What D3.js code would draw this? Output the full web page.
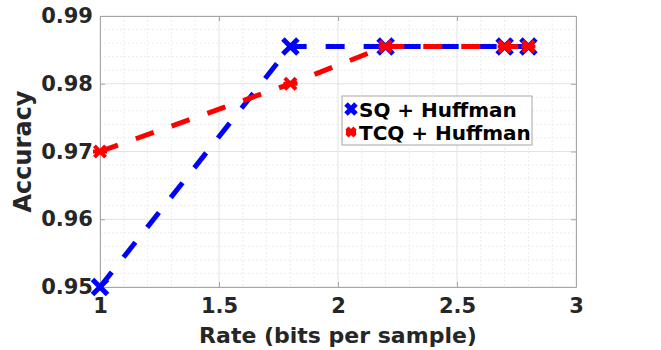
<!DOCTYPE html>
<html>
<head>
<meta charset="utf-8">
<script src="https://cdn.jsdelivr.net/npm/d3@7"></script>
<style>
  body { margin: 0; background: #fff; }
  text { font-family: "DejaVu Sans", sans-serif; font-weight: bold; }
</style>
</head>
<body>
<svg id="CHART" width="661" height="350"></svg>
<script>
// data
const rates = [1, 1.8, 2.2, 2.7, 2.8];
const sqAcc = [0.95, 0.9855, 0.9855, 0.9855, 0.9855];
const tcqAcc = [0.97, 0.98, 0.9855, 0.9855, 0.9855];
const xTicks = [1, 1.5, 2, 2.5, 3];
const yTicks = [0.95, 0.96, 0.97, 0.98, 0.99];
const seriesNames = ["SQ + Huffman", "TCQ + Huffman"];

const width = 661;
const height = 350;
const margin = { top: 16, right: 85, bottom: 63, left: 100 };
const plotW = width - margin.left - margin.right;
const plotH = height - margin.top - margin.bottom;
const textColor = "#262626";
const axisColor = "#a6a6a6";

const svg = d3.select("#CHART");
const g = svg.append("g").attr("transform", `translate(${margin.left},${margin.top})`);

const x = d3.scaleLinear().domain([1, 3]).range([0, plotW]);
const y = d3.scaleLinear().domain([0.95, 0.99]).range([plotH, 0]);

// minor grid (dotted)
const xMinor = d3.range(1, 3.0001, 0.1).filter((v) => !xTicks.some((t) => Math.abs(t - v) < 1e-6));
const yMinor = d3.range(0.95, 0.99001, 0.002).filter((v) => !yTicks.some((t) => Math.abs(t - v) < 1e-6));
g.append("g")
  .selectAll("line")
  .data(xMinor)
  .join("line")
  .attr("x1", (d) => x(d)).attr("x2", (d) => x(d))
  .attr("y1", 0).attr("y2", plotH)
  .attr("stroke", "#ececec").attr("stroke-dasharray", "2,2");
g.append("g")
  .selectAll("line")
  .data(yMinor)
  .join("line")
  .attr("y1", (d) => y(d)).attr("y2", (d) => y(d))
  .attr("x1", 0).attr("x2", plotW)
  .attr("stroke", "#ececec").attr("stroke-dasharray", "2,2");

// major grid
g.append("g")
  .selectAll("line")
  .data(xTicks)
  .join("line")
  .attr("x1", (d) => x(d)).attr("x2", (d) => x(d))
  .attr("y1", 0).attr("y2", plotH)
  .attr("stroke", "#e3e3e3");
g.append("g")
  .selectAll("line")
  .data(yTicks)
  .join("line")
  .attr("y1", (d) => y(d)).attr("y2", (d) => y(d))
  .attr("x1", 0).attr("x2", plotW)
  .attr("stroke", "#e3e3e3");

// axes (ticks inside, box all round)
const styleAxis = (sel) => {
  sel.select(".domain").attr("stroke", axisColor);
  sel.selectAll(".tick line").attr("stroke", axisColor);
  sel.selectAll("text")
    .attr("fill", textColor)
    .style("font-size", "21px")
    .style("font-weight", "bold");
};
g.append("g")
  .attr("transform", `translate(0,${plotH})`)
  .call(d3.axisBottom(x).tickValues(xTicks).tickFormat(d3.format("")).tickSizeInner(-5).tickSizeOuter(0).tickPadding(11))
  .call(styleAxis);
g.append("g")
  .call(d3.axisTop(x).tickValues(xTicks).tickFormat("").tickSizeInner(-5).tickSizeOuter(0))
  .call(styleAxis);
g.append("g")
  .call(d3.axisLeft(y).tickValues(yTicks).tickFormat(d3.format(".2f")).tickSizeInner(-5).tickSizeOuter(0).tickPadding(7))
  .call(styleAxis);
g.append("g")
  .attr("transform", `translate(${plotW},0)`)
  .call(d3.axisRight(y).tickValues(yTicks).tickFormat("").tickSizeInner(-5).tickSizeOuter(0))
  .call(styleAxis);

// axis labels
svg.append("text")
  .attr("x", margin.left + plotW / 2)
  .attr("y", 343)
  .attr("text-anchor", "middle")
  .attr("fill", textColor)
  .style("font-size", "22px")
  .text("Rate (bits per sample)");
svg.append("text")
  .attr("transform", `translate(31,${margin.top + plotH / 2}) rotate(-90)`)
  .attr("text-anchor", "middle")
  .attr("fill", textColor)
  .style("font-size", "24px")
  .text("Accuracy");

// markers
const crossPath = (s) => `M${-s},${-s}L${s},${s}M${-s},${s}L${s},${-s}`;
const starPath = (s) =>
  `M${-s},0L${s},0` +
  `M${-s * 0.8},${-s * 0.8}L${s * 0.8},${s * 0.8}M${-s * 0.8},${s * 0.8}L${s * 0.8},${-s * 0.8}`;

const series = [
  { name: seriesNames[0], values: sqAcc, color: "#0000ff", marker: crossPath(7.5), mw: 5 },
  { name: seriesNames[1], values: tcqAcc, color: "#ff0000", marker: starPath(7), mw: 4 },
];

const line = d3.line().x((d) => x(d[0])).y((d) => y(d[1]));
const plot = g.append("g");

series.forEach((s) => {
  const pts = rates.map((r, i) => [r, s.values[i]]);
  plot.append("path")
    .datum(pts)
    .attr("d", line)
    .attr("fill", "none")
    .attr("stroke", s.color)
    .attr("stroke-width", 5)
    .attr("stroke-dasharray", "19,19");
  plot.append("g")
    .selectAll("path")
    .data(pts)
    .join("path")
    .attr("transform", (d) => `translate(${x(d[0])},${y(d[1])})`)
    .attr("d", s.marker)
    .attr("stroke", s.color)
    .attr("stroke-width", s.mw)
    .attr("fill", "none");
});

// legend
const legend = svg.append("g").attr("transform", "translate(342,96)");
legend.append("rect")
  .attr("width", 190).attr("height", 49)
  .attr("fill", "#fff")
  .attr("stroke", axisColor);
series.forEach((s, i) => {
  const row = legend.append("g").attr("transform", `translate(0,${13 + i * 23})`);
  row.append("path")
    .attr("transform", "translate(9,0)")
    .attr("d", i === 0 ? crossPath(5) : starPath(5))
    .attr("stroke", s.color)
    .attr("stroke-width", i === 0 ? 5 : 4.5);
  row.append("text")
    .attr("x", 17)
    .attr("y", 7.5)
    .attr("fill", "#000")
    .style("font-size", "20px")
    .text(s.name);
});
</script>
</body>
</html>
